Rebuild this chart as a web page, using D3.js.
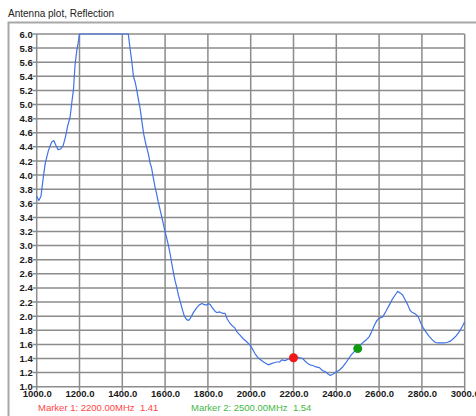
<!DOCTYPE html>
<html>
<head>
<meta charset="utf-8">
<script src="https://cdn.jsdelivr.net/npm/d3@7"></script>
<style>
  body { margin: 0; background: #fff; }
  svg { display: block; font-family: "Liberation Sans", Arial, sans-serif; }
</style>
</head>
<body>
<div id="chart"></div>
<script>
// Reflection (SWR), frequency in MHz
const freqMHz = [
  1000, 1010, 1020, 1030, 1040, 1055, 1070, 1080, 1090, 1100, 1112, 1124, 1135, 1145, 1156,
  1165, 1172, 1179, 1187, 1193, 1200, 1428, 1436, 1444, 1452, 1460, 1468, 1476, 1483, 1492,
  1500, 1510, 1521, 1530, 1537, 1545, 1553, 1560, 1568, 1584, 1600, 1615, 1625, 1631, 1640,
  1646, 1655, 1662, 1673, 1680, 1690, 1701, 1710, 1718, 1732, 1748, 1760, 1772, 1786, 1795,
  1802, 1812, 1820, 1833, 1842, 1855, 1868, 1880, 1890, 1903, 1915, 1927, 1935, 1950, 1965,
  1980, 1997, 2005, 2020, 2032, 2043, 2060, 2082, 2100, 2110, 2121, 2135, 2145, 2160, 2175,
  2190, 2200, 2215, 2230, 2243, 2255, 2266, 2277, 2290, 2305, 2321, 2335, 2350, 2362, 2372,
  2385, 2399, 2412, 2430, 2445, 2458, 2470, 2485, 2500, 2515, 2530, 2542, 2554, 2565, 2578,
  2590, 2601, 2617, 2632, 2648, 2660, 2675, 2687, 2698, 2710, 2722, 2734, 2745, 2752, 2770,
  2783, 2795, 2807, 2820, 2835, 2850, 2862, 2874, 2890, 2905, 2920, 2935, 2950, 2960, 2975,
  2990, 3000
];
const reflection = [
  3.70, 3.64, 3.70, 3.95, 4.17, 4.35, 4.47, 4.49, 4.42, 4.36, 4.37, 4.42, 4.55, 4.70, 4.82,
  5.05, 5.22, 5.55, 5.76, 5.86, 6.00, 6.00, 5.80, 5.62, 5.40, 5.32, 5.20, 5.06, 4.95, 4.75,
  4.58, 4.44, 4.31, 4.17, 4.10, 3.96, 3.83, 3.74, 3.62, 3.41, 3.20, 3.01, 2.86, 2.75, 2.60,
  2.51, 2.40, 2.30, 2.18, 2.10, 2.00, 1.95, 1.94, 1.97, 2.05, 2.12, 2.16, 2.18, 2.16, 2.16,
  2.18, 2.16, 2.12, 2.07, 2.05, 2.06, 2.04, 2.04, 1.96, 1.90, 1.86, 1.83, 1.78, 1.73, 1.68,
  1.64, 1.59, 1.55, 1.47, 1.42, 1.39, 1.35, 1.31, 1.33, 1.34, 1.35, 1.35, 1.38, 1.37, 1.39,
  1.40, 1.41, 1.42, 1.41, 1.40, 1.36, 1.33, 1.31, 1.30, 1.28, 1.27, 1.23, 1.21, 1.18, 1.16,
  1.18, 1.21, 1.23, 1.28, 1.34, 1.40, 1.45, 1.50, 1.54, 1.60, 1.64, 1.67, 1.71, 1.78, 1.87,
  1.94, 1.97, 1.99, 2.07, 2.16, 2.23, 2.30, 2.35, 2.33, 2.30, 2.23, 2.16, 2.08, 2.06, 2.03,
  1.99, 1.90, 1.83, 1.77, 1.71, 1.66, 1.63, 1.62, 1.62, 1.62, 1.63, 1.65, 1.69, 1.72, 1.78,
  1.86, 1.92
];

// markers
const markerFreq = [2200, 2500];
const markerValue = [1.41, 1.54];
const markerColor = ['#f01818', '#139a13'];
const markerTextColor = ['#ff4545', '#45b845'];

// axis ticks
const xTicks = d3.range(1000, 3001, 200);
const yTicks = d3.range(10, 61, 2).map(d => d / 10);

const width = 476;
const height = 416;

const svg = d3.select('#chart').append('svg')
    .attr('width', width)
    .attr('height', height);

const x = d3.scaleLinear().domain([1000, 3000]).range([36.7, 464.7]);
const y = d3.scaleLinear().domain([1, 6]).range([386.7, 34]);

// title + panel frame
svg.append('text')
    .attr('x', 8)
    .attr('y', 17)
    .style('font-size', '10px')
    .style('fill', '#222')
    .text('Antenna plot, Reflection');

svg.append('path')
    .attr('d', `M8.5,${height} V22.5 H${width}`)
    .attr('fill', 'none')
    .attr('stroke', '#a8a8a8')
    .attr('stroke-width', 2);

// grid
const grid = svg.append('g').attr('class', 'grid');
grid.selectAll('.hline')
    .data(yTicks)
    .join('line')
    .attr('x1', x.range()[0] - 4)
    .attr('x2', x.range()[1])
    .attr('y1', d => y(d))
    .attr('y2', d => y(d))
    .attr('stroke', '#8c8c8c')
    .attr('stroke-width', 1.5);

grid.selectAll('.vline')
    .data(xTicks)
    .join('line')
    .attr('x1', d => x(d))
    .attr('x2', d => x(d))
    .attr('y1', y.range()[1])
    .attr('y2', y.range()[0] + 4)
    .attr('stroke', '#8c8c8c')
    .attr('stroke-width', 1.5);

// axes (labels only, grid draws the lines)
const yAxis = d3.axisLeft(y)
    .tickValues(yTicks)
    .tickFormat(d3.format('.1f'))
    .tickSize(4)
    .tickPadding(0);

const xAxis = d3.axisBottom(x)
    .tickValues(xTicks)
    .tickFormat(d3.format('.1f'))
    .tickSize(4)
    .tickPadding(1);

svg.append('g')
    .attr('transform', `translate(${x.range()[0]},0)`)
    .call(yAxis)
    .call(g => g.select('.domain').remove())
    .call(g => g.selectAll('line').remove())
    .call(g => g.selectAll('text')
        .attr('x', -4)
        .style('font-size', '9.5px')
        .style('font-weight', 'bold')
        .style('fill', '#1a1a1a'));

svg.append('g')
    .attr('transform', `translate(0,${y.range()[0]})`)
    .call(xAxis)
    .call(g => g.select('.domain').remove())
    .call(g => g.selectAll('line').remove())
    .call(g => g.selectAll('text')
        .attr('y', 4)
        .style('font-size', '9.5px')
        .style('font-weight', 'bold')
        .style('fill', '#1a1a1a'));

// reflection curve
const points = freqMHz.map((f, i) => [f, reflection[i]]);
const line = d3.line()
    .x(d => x(d[0]))
    .y(d => y(d[1]));

svg.append('path')
    .datum(points)
    .attr('d', line)
    .attr('fill', 'none')
    .attr('stroke', '#3f72e6')
    .attr('stroke-width', 1.2)
    .attr('stroke-linejoin', 'round');

// marker dots
svg.selectAll('.marker')
    .data(markerFreq)
    .join('circle')
    .attr('class', 'marker')
    .attr('cx', d => x(d))
    .attr('cy', (d, i) => y(markerValue[i]))
    .attr('r', 4.5)
    .attr('fill', (d, i) => markerColor[i]);

// marker readouts
const readoutX = [38, 191];
svg.selectAll('.readout')
    .data(markerFreq)
    .join('text')
    .attr('class', 'readout')
    .attr('x', (d, i) => readoutX[i])
    .attr('y', 411)
    .style('font-size', '9.5px')
    .style('white-space', 'pre')
    .style('fill', (d, i) => markerTextColor[i])
    .text((d, i) => `Marker ${i + 1}: ${d.toFixed(2)}MHz  ${markerValue[i].toFixed(2)}`);
</script>
</body>
</html>
